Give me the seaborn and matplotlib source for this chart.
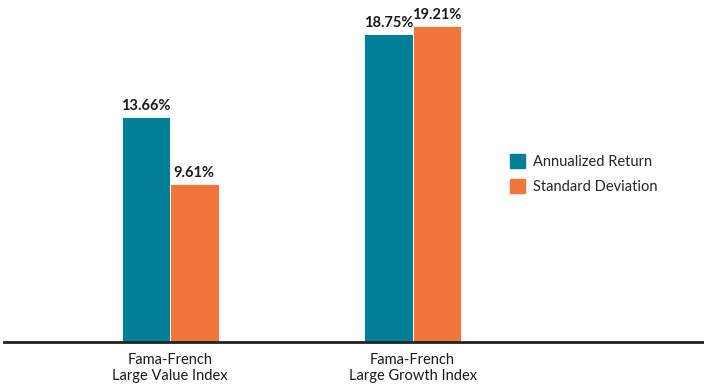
import pandas as pd
import matplotlib.pyplot as plt
import seaborn as sns

# Data
categories = ['Fama-French\nLarge Value Index', 'Fama-French\nLarge Growth Index']
series = ['Annualized Return', 'Standard Deviation']
annualized_return = [13.66, 18.75]
standard_deviation = [9.61, 19.21]

colors = ['#007F96', '#F2763B']

df = pd.DataFrame({
    'Index': categories * 2,
    'Metric': [series[0]] * 2 + [series[1]] * 2,
    'Value': annualized_return + standard_deviation,
})

sns.set_style('white')
plt.rcParams['font.family'] = ['Lato', 'DejaVu Sans']

fig = plt.figure(figsize=(7.04, 3.87), dpi=100)
ax = fig.add_axes([4 / 704, 45 / 387, 700 / 704, 342 / 387])

sns.barplot(data=df, x='Index', y='Value', hue='Metric', palette=colors,
            saturation=1, width=0.4, gap=0.0, edgecolor='white', linewidth=0.6,
            ax=ax, legend=False)

# Value labels above each bar
for container in ax.containers:
    ax.bar_label(container, labels=[f'{v:.2f}%' for v in container.datavalues],
                 padding=3, fontsize=10.5, fontweight='bold', color='#1a1a1a')

ax.set_xlim(-0.685, 2.202)
ax.set_ylim(0, 20.8)
ax.set_xlabel('')
ax.set_ylabel('')
ax.set_yticks([])
ax.tick_params(axis='x', length=0, pad=8, labelsize=10.5, labelcolor='#1a1a1a')
for lab in ax.get_xticklabels():
    lab.set_linespacing(1.2)

for side in ['top', 'right', 'left']:
    ax.spines[side].set_visible(False)
ax.spines['bottom'].set_color('#222222')
ax.spines['bottom'].set_linewidth(2)

# Legend on the right
handles = [plt.Rectangle((0, 0), 1, 1, color=c) for c in colors]
fig.legend(handles, series, loc='center left', bbox_to_anchor=(497 / 704, 1 - 174 / 387),
           frameon=False, fontsize=10.5, handlelength=1.0, handleheight=1.1,
           handletextpad=0.6, labelspacing=0.75)

fig.savefig('out.png', dpi=100)
